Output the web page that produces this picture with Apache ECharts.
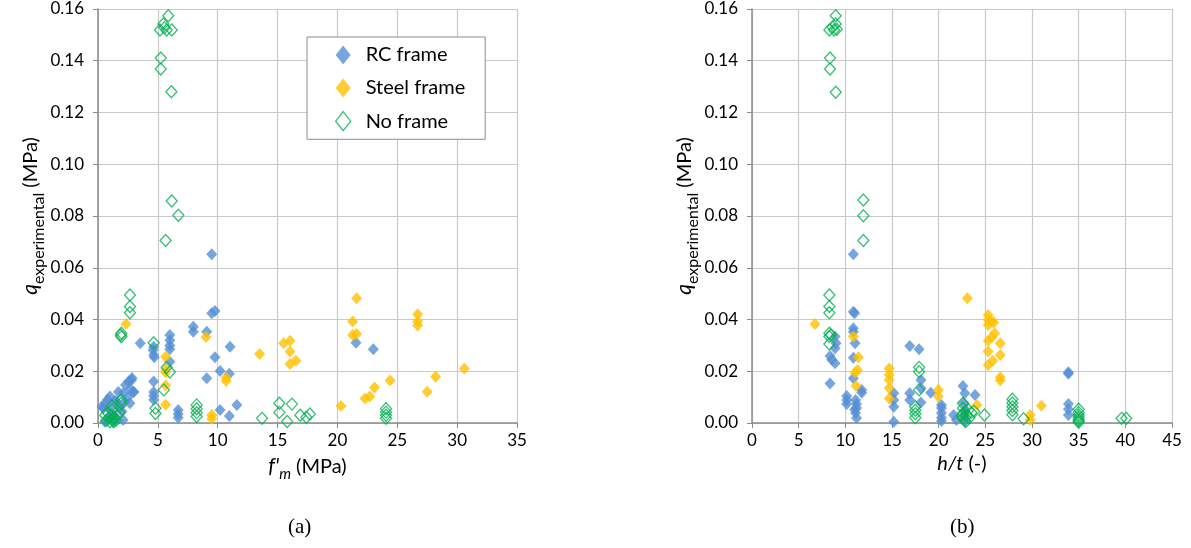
<!DOCTYPE html>
<html>
<head>
<meta charset="utf-8">
<script src="https://cdn.jsdelivr.net/npm/echarts@6/dist/echarts.min.js"></script>
<style>
html,body{margin:0;padding:0;background:#fff;}
#c{width:1191px;height:548px;}
</style>
</head>
<body>
<div id="c"></div>
<script>
// ---- Data ----
const seriesNames = ['RC frame', 'Steel frame', 'No frame'];
const xTicksA = [0, 5, 10, 15, 20, 25, 30, 35];
const xTicksB = [0, 5, 10, 15, 20, 25, 30, 35, 40, 45];
const yTicks = [0, 0.02, 0.04, 0.06, 0.08, 0.10, 0.12, 0.14, 0.16];

// Panel (a): [f'm (MPa), q (MPa)]
const rcA = [
  [0.33,0.0063],[0.45,0.0057],[0.58,0.0076],[0.58,0.0005],[0.8,0.009],[1.0,0.0102],[1.0,0.006],
  [1.2,0.003],[1.28,0.0005],[1.4,0.0085],[1.56,0.0082],[1.7,0.012],[1.8,0.006],[2.0,0.0044],
  [2.1,0.0115],[2.1,0.0012],[2.3,0.0147],[2.56,0.016],[2.67,0.0076],[2.8,0.0166],[2.84,0.0174],
  [2.95,0.0121],[2.5,0.010],[2.2,0.008],[1.5,0.002],[0.9,0.0015],[2.7,0.013],[3.0,0.012],
  [3.53,0.0308],[4.65,0.0295],[4.6,0.0282],[4.65,0.0263],[4.7,0.0254],[4.65,0.016],
  [4.65,0.012],[4.65,0.0105],[4.65,0.009],
  [6.0,0.034],[6.0,0.032],[6.0,0.030],[6.0,0.0285],[6.0,0.0237],
  [6.7,0.005],[6.7,0.0035],[6.7,0.002],
  [7.96,0.0372],[7.96,0.0353],[9.08,0.0353],[9.5,0.0652],[9.5,0.0424],[9.77,0.0433],
  [11.03,0.0295],[9.77,0.0254],[10.2,0.0201],[10.97,0.019],[9.08,0.0173],
  [10.2,0.005],[10.97,0.0027],[11.6,0.007],
  [21.55,0.031],[23.0,0.0285]
];
const steelA = [
  [2.34,0.0383],[9.02,0.0332],[5.65,0.0256],[5.65,0.0208],[5.65,0.0195],[5.65,0.0145],[5.65,0.0071],
  [10.7,0.0175],[10.7,0.0162],[13.5,0.0267],[9.5,0.0031],[9.5,0.0016],
  [21.6,0.0482],[21.27,0.0392],[21.27,0.034],[21.6,0.0344],
  [26.7,0.042],[26.7,0.0392],[26.7,0.0377],
  [15.5,0.0308],[16.04,0.0318],[16.04,0.0276],[16.04,0.0228],[16.54,0.0241],
  [30.6,0.0211],[28.2,0.0179],[27.5,0.0121],[24.4,0.0164],[23.1,0.0137],
  [22.7,0.0102],[22.3,0.0095],[20.3,0.0066]
];
const noA = [
  [5.87,0.1574],[5.46,0.1542],[5.18,0.1519],[5.74,0.1519],[6.16,0.1519],[5.55,0.1528],
  [5.24,0.1411],[5.24,0.1368],[6.13,0.128],[6.16,0.0858],[6.71,0.0803],[5.65,0.0705],
  [2.67,0.0495],[2.67,0.045],[2.67,0.0426],[1.95,0.0347],[1.95,0.0333],[1.9,0.034],
  [4.65,0.031],[5.74,0.0215],[6.0,0.0197],[5.5,0.0128],[4.8,0.0057],[4.8,0.0037],
  [8.24,0.007],[8.24,0.0055],[8.24,0.004],[8.24,0.0025],
  [13.7,0.0018],[15.15,0.0076],[15.15,0.0041],[16.2,0.0073],[15.8,0.0006],[16.9,0.003],
  [17.4,0.0022],[17.7,0.0035],
  [24.06,0.0055],[24.06,0.0042],[24.06,0.003],[24.06,0.0018],
  [0.6,0.003],[0.7,0.001],[0.9,0.002],[1.0,0.0005],[1.1,0.003],[1.2,0.0015],[1.3,0.0005],
  [1.4,0.002],[1.5,0.001],[1.6,0.003],[1.17,0.0066],[1.17,0.005],[1.95,0.0089],[1.95,0.0076],
  [1.8,0.004],[0.8,0.004]
];

// Panel (b): [h/t (-), q (MPa)]
const rcB = [
  [10.86,0.0652],[10.86,0.043],[11.0,0.0424],[10.86,0.0366],[10.86,0.0353],[11.04,0.0308],
  [10.86,0.0252],[10.86,0.0173],[11.76,0.0128],[11.76,0.0117],
  [8.9,0.0334],[9.0,0.0308],[8.9,0.0289],[8.36,0.0259],[8.54,0.0244],[8.9,0.0231],[8.36,0.0153],
  [10.15,0.0104],[10.15,0.0089],[10.15,0.0073],
  [11.1,0.0089],[11.2,0.0073],[11.2,0.0058],[11.0,0.0052],[11.1,0.0039],[11.2,0.0019],
  [15.2,0.0115],[15.2,0.0089],[15.2,0.0063],[15.2,0.0005],
  [16.9,0.0298],[17.9,0.0285],[16.9,0.0115],[16.9,0.0089],[18.1,0.0166],[18.1,0.0134],[18.1,0.0079],
  [19.15,0.0117],
  [20.3,0.007],[20.3,0.0058],[20.3,0.0039],[20.3,0.002],[20.3,0.0008],
  [21.6,0.0031],[21.9,0.0012],
  [22.6,0.0143],[22.8,0.0115],[23.9,0.0108],
  [22.7,0.0077],[22.8,0.0047],[22.7,0.0029],[22.8,0.0008],
  [33.9,0.0196],[33.9,0.019],[33.9,0.0073],[33.9,0.0053],[33.9,0.0031]
];
const steelB = [
  [6.75,0.0383],[10.86,0.0334],[11.4,0.0254],[11.3,0.0205],[11.04,0.0194],[11.15,0.0143],
  [14.7,0.0211],[14.7,0.0186],[14.7,0.0167],[14.7,0.0135],[14.7,0.0095],
  [23.07,0.0482],[25.3,0.0417],[25.3,0.0398],[25.7,0.0392],[25.3,0.0379],[25.9,0.0388],
  [26.0,0.0347],[25.7,0.0331],[25.3,0.0318],[26.6,0.0308],[25.3,0.0276],[26.6,0.0263],
  [25.8,0.0241],[25.3,0.0224],[26.6,0.0177],[26.6,0.0164],
  [19.97,0.0128],[19.97,0.0102],[24.1,0.007],[29.8,0.0031],[29.8,0.0012],[31.0,0.0067]
];
const noB = [
  [8.97,0.1574],[8.97,0.1542],[8.29,0.1519],[8.79,0.1519],[9.08,0.1522],[8.64,0.153],
  [8.36,0.1411],[8.36,0.1368],[8.97,0.1278],[11.93,0.0862],[11.93,0.0801],[11.93,0.0705],
  [8.29,0.0495],[8.29,0.045],[8.29,0.0426],[8.29,0.0347],[8.29,0.0334],[8.45,0.034],[8.29,0.0305],
  [17.9,0.0215],[17.9,0.0198],[17.9,0.0128],
  [17.5,0.0063],[17.5,0.0049],[17.5,0.0036],[17.5,0.002],
  [22.6,0.0076],[22.6,0.0057],[22.6,0.0038],[22.6,0.0018],[22.8,0.001],[23.0,0.003],
  [23.2,0.005],[23.5,0.004],[23.8,0.0045],[22.9,0.0005],[23.3,0.002],[22.5,0.0028],
  [24.9,0.0031],
  [27.9,0.0092],[27.9,0.0077],[27.9,0.0063],[27.9,0.0048],[27.9,0.0032],
  [29.1,0.0016],
  [35.0,0.0053],[35.0,0.0041],[35.0,0.0031],[35.0,0.0022],[35.0,0.0014],[35.0,0.0008],[35.0,0.0003],
  [39.6,0.0018],[40.1,0.0018]
];

// ---- Chart ----
const FONT = 'Lato';
const gridColor = '#c9c9c9';
const axisColor = '#8c8c8c';
const colors = ['#558ED5', '#FFC000', '#00B050'];

function xAxisCfg(idx, max, nameRich, nameText) {
  return {
    gridIndex: idx, type: 'value', min: 0, max: max, interval: 5,
    axisLine: { show: true, onZero: false, lineStyle: { color: axisColor, width: 1.5 } },
    axisTick: { show: true, inside: false, length: 5, lineStyle: { color: axisColor } },
    axisLabel: { color: '#000', fontSize: 17, fontFamily: FONT, margin: 9 },
    splitLine: { show: true, lineStyle: { color: gridColor, width: 1.2 } },
    name: nameText, nameLocation: 'middle', nameGap: 30,
    nameTextStyle: { color: '#000', fontSize: 19, fontFamily: FONT, rich: nameRich }
  };
}
function yAxisCfg(idx) {
  return {
    gridIndex: idx, type: 'value', min: 0, max: 0.16, interval: 0.02,
    axisLine: { show: true, lineStyle: { color: axisColor, width: 1.5 } },
    axisTick: { show: true, inside: false, length: 5, lineStyle: { color: axisColor } },
    axisLabel: { color: '#000', fontSize: 17, fontFamily: FONT, margin: 14,
      formatter: v => v.toFixed(2) },
    splitLine: { show: true, lineStyle: { color: gridColor, width: 1.2 } },
    name: '{q|q}{sub|experimental}{n| (MPa)}', nameLocation: 'middle', nameRotate: 90, nameGap: 50,
    nameTextStyle: { color: '#000', fontSize: 19, fontFamily: FONT,
      rich: {
        q: { fontSize: 21, fontStyle: 'italic', fontFamily: FONT, color: '#000', verticalAlign: 'bottom', lineHeight: 24 },
        sub: { fontSize: 16, fontFamily: FONT, color: '#000', verticalAlign: 'bottom', lineHeight: 24, padding: [0,0,-6,0] },
        n: { fontSize: 20, fontFamily: FONT, color: '#000', verticalAlign: 'bottom', lineHeight: 24 }
      } }
  };
}

const richA = {
  f: { fontSize: 21, fontStyle: 'italic', fontFamily: FONT, color: '#000', verticalAlign: 'bottom', lineHeight: 24 },
  sub: { fontSize: 15, fontStyle: 'italic', fontFamily: FONT, color: '#000', verticalAlign: 'bottom', lineHeight: 24, padding: [0,0,-5,0] },
  n: { fontSize: 20, fontFamily: FONT, color: '#000', verticalAlign: 'bottom', lineHeight: 24 }
};
const richB = {
  i: { fontSize: 20, fontStyle: 'italic', fontFamily: FONT, color: '#000' },
  n: { fontSize: 20, fontFamily: FONT, color: '#000' }
};

function mkSeries(name, data, xi, colorIdx, hollow) {
  return {
    name: name, type: 'scatter', xAxisIndex: xi, yAxisIndex: xi, data: data,
    symbol: 'diamond', symbolSize: [11, 12],
    itemStyle: hollow
      ? { color: 'rgba(255,255,255,0)', borderColor: colors[colorIdx], borderWidth: 1.3 }
      : { color: colors[colorIdx] },
    emphasis: { disabled: true }, animation: false
  };
}

const chart = echarts.init(document.getElementById('c'), null, { renderer: 'canvas' });
chart.setOption({
  backgroundColor: '#fff',
  animation: false,
  grid: [
    { left: 98, top: 9, width: 419, height: 414, containLabel: false },
    { left: 752, top: 9, width: 420, height: 414, containLabel: false }
  ],
  xAxis: [
    xAxisCfg(0, 35, richA, "{f|f'}{sub|m}{n| (MPa)}"),
    xAxisCfg(1, 45, richB, '{i|h/t}{n| (-)}')
  ],
  yAxis: [yAxisCfg(0), yAxisCfg(1)],
  legend: {
    data: seriesNames.map((n, i) => ({ name: n, itemStyle: i === 2
      ? { color: '#fff', borderColor: colors[2], borderWidth: 1.3 } : { color: colors[i] } })),
    orient: 'vertical', left: 307, top: 37,
    padding: [8, 20, 8, 28],
    backgroundColor: '#fff', borderColor: '#8c8c8c', borderWidth: 1,
    itemWidth: 15, itemHeight: 19, itemGap: 13, icon: 'diamond',
    textStyle: { fontSize: 20, fontFamily: FONT, color: '#000', padding: [0, 0, 0, 10] }
  },
  graphic: [
    { type: 'text', left: 288, top: 517, style: { text: '(a)', font: '21px "Liberation Serif"', fill: '#000' } },
    { type: 'text', left: 950, top: 517, style: { text: '(b)', font: '21px "Liberation Serif"', fill: '#000' } }
  ],
  series: [
    mkSeries(seriesNames[0], rcA, 0, 0, false),
    mkSeries(seriesNames[1], steelA, 0, 1, false),
    mkSeries(seriesNames[2], noA, 0, 2, true),
    mkSeries(seriesNames[0], rcB, 1, 0, false),
    mkSeries(seriesNames[1], steelB, 1, 1, false),
    mkSeries(seriesNames[2], noB, 1, 2, true)
  ]
});
</script>
</body>
</html>
